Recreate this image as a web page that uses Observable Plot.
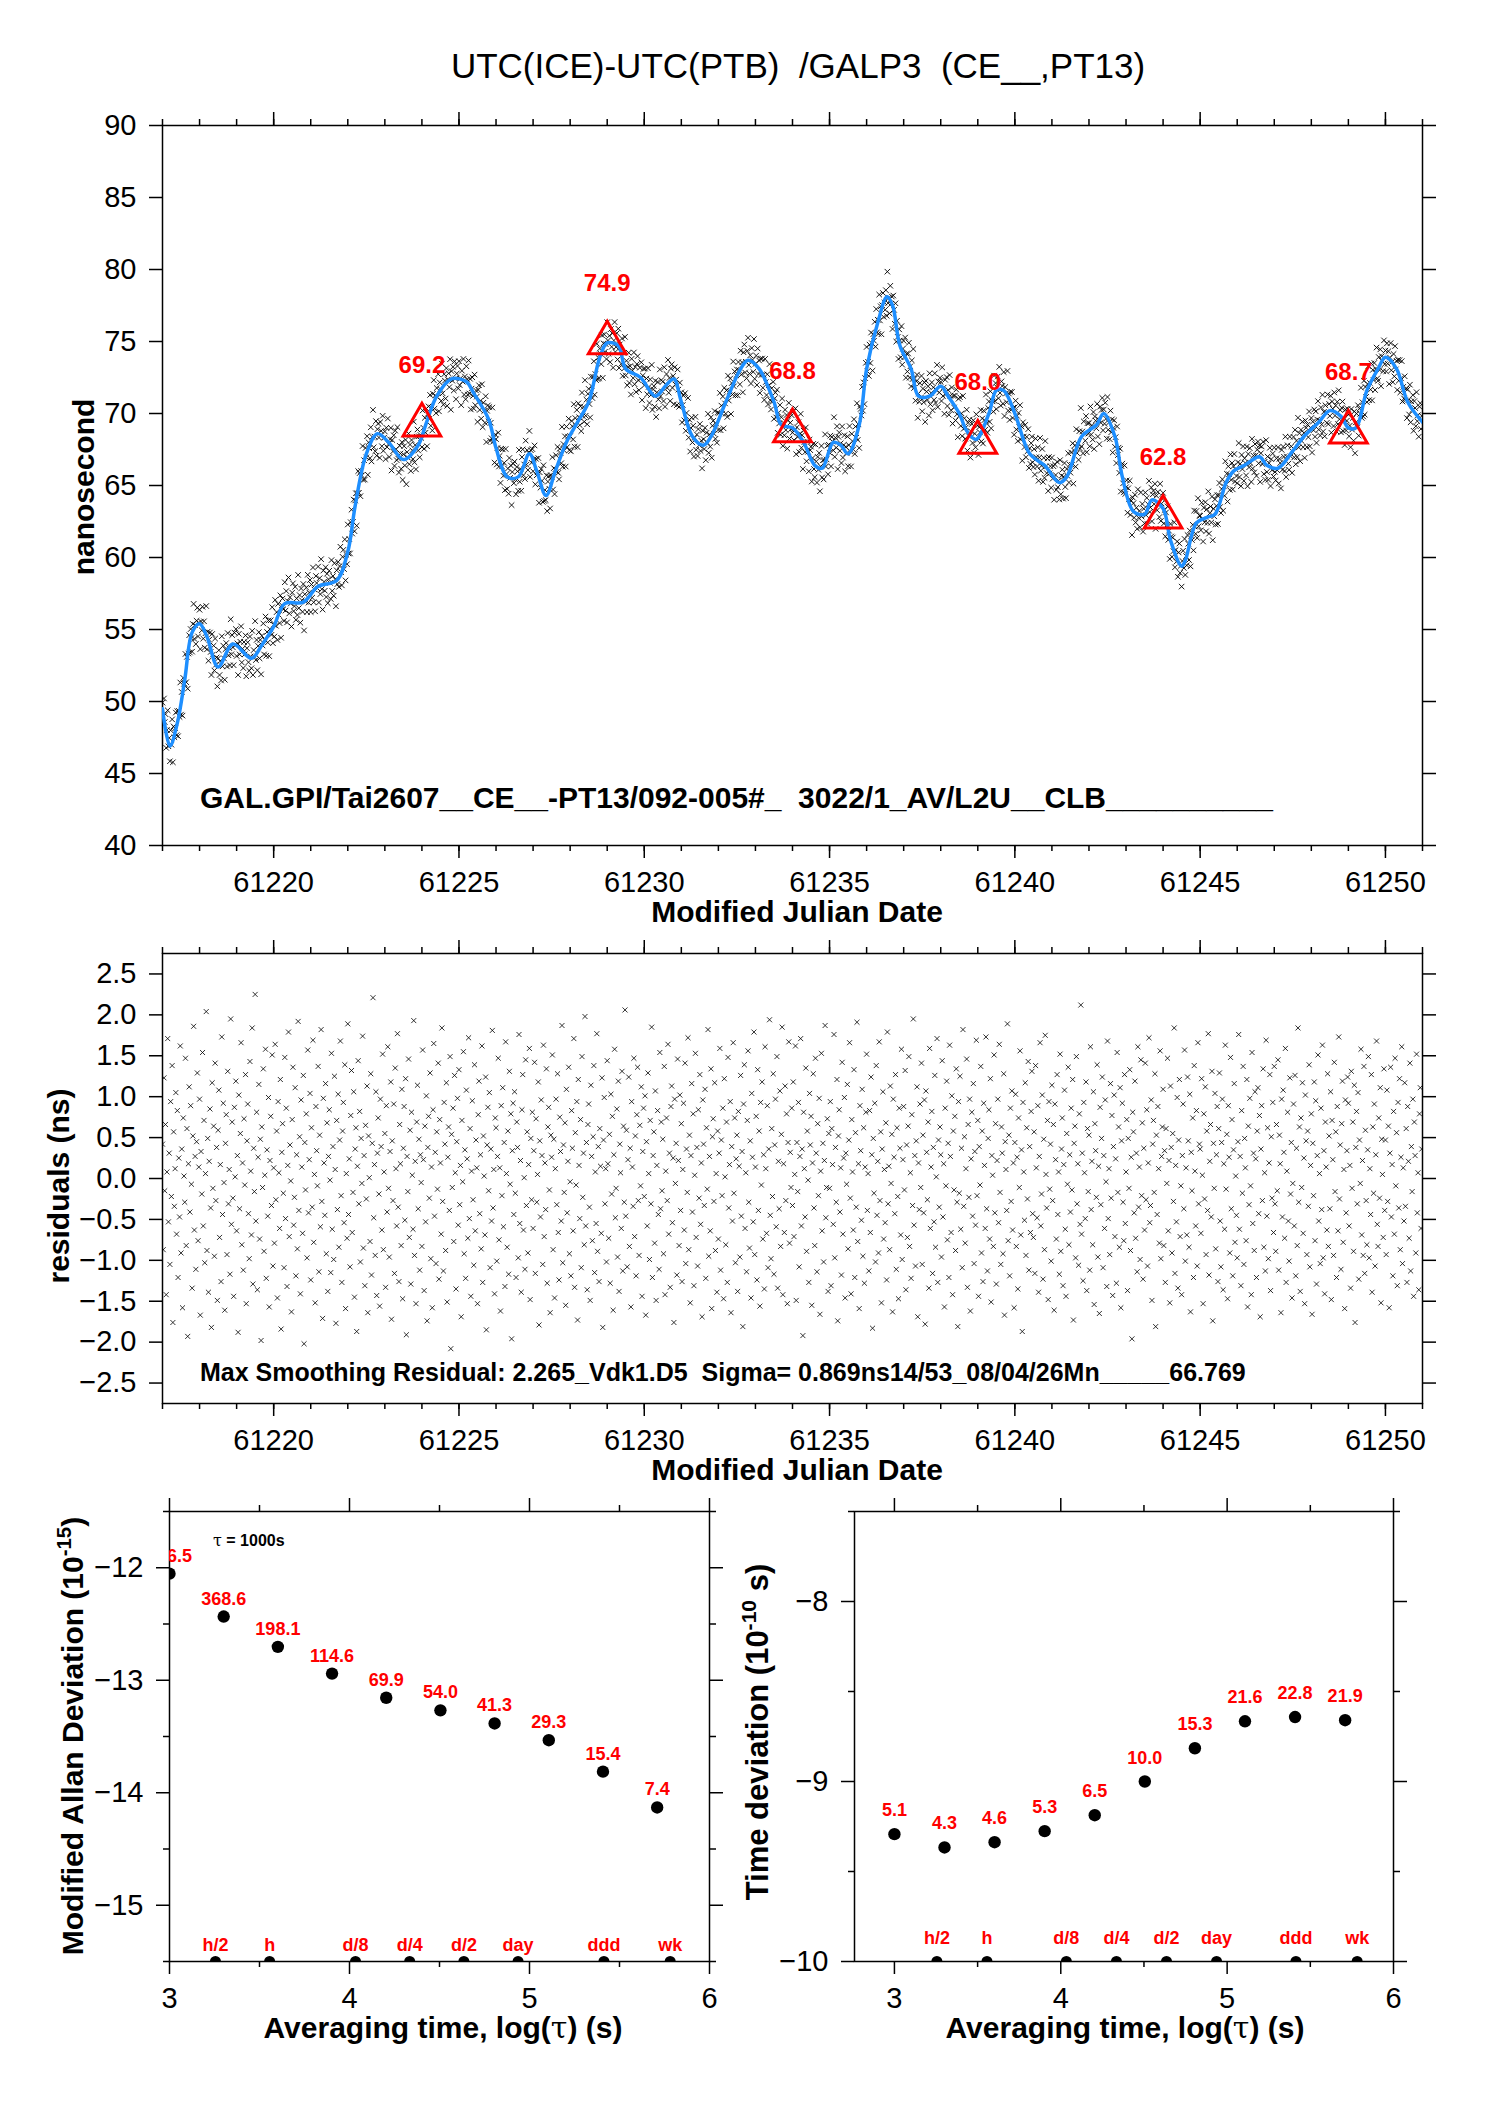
<!DOCTYPE html>
<html><head><meta charset="utf-8">
<script src="https://cdn.jsdelivr.net/npm/d3@7"></script>
<script src="https://cdn.jsdelivr.net/npm/@observablehq/plot@0.6"></script>
<style>
body{margin:0;background:#fff;}
#page{position:relative;width:1488px;height:2105px;background:#fff;overflow:hidden;}
.panel{position:absolute;}
.panel svg{display:block;max-width:none;overflow:visible;}
svg text{white-space:pre;}
</style></head><body><div id="page"></div>
<script>
// ---------- data ----------
const mjdTicksMajor = [61220, 61225, 61230, 61235, 61240, 61245, 61250];
const mjdTicksMinor = d3.range(61217, 61252, 1);
const nsTicks = [40, 45, 50, 55, 60, 65, 70, 75, 80, 85, 90];
const resTicks = [-2.5, -2.0, -1.5, -1.0, -0.5, 0.0, 0.5, 1.0, 1.5, 2.0, 2.5];

// blue smoothed curve (MJD, ns)
const smoothMJD = [61217.0,61217.2,61217.4,61217.6,61217.8,61218.0,61218.2,61218.5,61218.9,61219.4,61219.7,61220.0,61220.3,61220.8,61221.2,61221.7,61222.0,61222.2,61222.5,61222.8,61223.1,61223.5,61223.9,61224.1,61224.4,61224.8,61225.2,61225.4,61225.8,61226.0,61226.3,61226.6,61226.9,61227.1,61227.35,61227.6,61227.9,61228.2,61228.5,61228.8,61229.0,61229.3,61229.5,61229.9,61230.3,61230.6,61230.8,61231.0,61231.3,61231.6,61231.8,61232.2,61232.6,61232.8,61233.1,61233.5,61233.7,61234.0,61234.3,61234.6,61234.8,61235.1,61235.3,61235.5,61235.8,61236.0,61236.3,61236.55,61236.7,61236.9,61237.2,61237.4,61237.7,61238.0,61238.2,61238.5,61238.7,61238.95,61239.3,61239.5,61239.7,61240.0,61240.4,61240.8,61241.2,61241.4,61241.8,61242.2,61242.4,61242.7,61242.9,61243.2,61243.5,61243.7,61244.0,61244.2,61244.5,61244.6,61244.9,61245.2,61245.4,61245.7,61245.9,61246.2,61246.6,61246.8,61247.1,61247.5,61247.8,61248.2,61248.5,61248.8,61249.0,61249.2,61249.5,61249.8,61250.0,61250.3,61250.6,61251.0];
const smoothNs = [49.5,46.9,48.5,51.5,54.8,55.4,54.5,52.4,54.0,53.0,54.0,55.2,56.8,56.9,58.0,58.4,60.4,63.6,67.2,68.6,68.0,66.8,67.8,69.2,71.2,72.4,72.2,71.4,69.6,67.6,65.6,65.6,67.2,66.0,64.3,66.0,68.0,69.4,70.8,73.9,74.9,74.7,73.1,72.5,71.2,72.0,72.4,70.8,68.4,67.8,68.4,70.8,73.1,73.7,73.1,70.8,69.2,69.0,68.0,66.4,66.2,68.0,67.8,67.2,69.2,73.1,76.3,78.1,77.5,74.7,73.1,71.2,71.2,71.9,71.2,70.0,68.8,68.2,70.0,71.6,71.6,70.0,67.2,66.4,65.2,65.6,68.4,69.2,70.0,68.4,65.6,63.2,63.0,64.0,63.4,61.2,59.4,59.8,62.4,62.8,63.0,65.2,66.0,66.4,67.0,66.4,66.2,67.4,68.4,69.4,70.2,69.8,69.0,69.0,71.6,73.1,73.9,73.1,70.8,69.4];

// smoothing residuals (ns), regular sampling from MJD 61217, 50 samples per day
const sampleStartMJD = 61217;
const samplesPerDay = 50;
const residuals = [
0.42,-0.87,1.23,-0.15,0.66,-1.42,0.08,1.71,-0.53,0.31,-1.05,0.94,-0.22,1.38,-1.76,0.57,-0.34,0.12,1.05,-0.68,0.83,-1.21,0.25,-0.47,1.62,
-0.91,0.36,-1.58,0.74,0.03,-0.29,1.47,-0.82,0.61,-1.93,0.18,1.12,-0.41,0.89,-0.07,-1.34,0.52,1.86,-0.63,0.27,-1.11,0.45,1.29,-0.76,0.14,
0.97,-1.67,0.33,-0.19,1.54,-0.58,0.71,-1.03,0.06,2.04,-0.88,0.49,-1.39,0.21,0.85,-0.36,-1.82,1.17,-0.12,0.64,-0.95,1.41,-0.27,0.38,-1.49,
0.59,1.08,-0.72,0.17,-1.26,1.73,-0.44,0.92,-0.05,-1.61,0.43,0.78,-0.93,1.31,-0.31,0.11,-1.17,1.95,-0.56,0.69,-0.24,-1.44,0.87,0.02,1.19,
-0.64,0.28,-1.88,1.02,-0.37,0.55,1.66,-0.81,0.19,-1.12,0.73,-0.08,1.27,-1.53,0.46,0.91,-0.43,-0.98,1.43,0.09,-0.69,1.84,-1.29,0.37,-0.16,
2.25,-0.52,0.81,-1.36,0.26,1.15,-0.74,0.48,-1.98,0.63,-0.11,1.34,-0.89,0.04,1.58,-1.22,0.35,-0.46,0.99,-1.57,0.22,0.76,-0.33,1.51,-1.07,
0.13,-0.79,1.64,-0.26,0.58,-1.46,0.94,0.07,-0.61,1.21,-1.84,0.32,0.67,-0.18,-1.09,1.48,-0.49,0.86,-1.32,0.16,1.79,-0.71,0.41,-0.03,-1.63,
0.72,1.36,-0.57,-0.23,1.11,-1.19,0.29,-0.86,1.92,-0.39,0.51,-1.41,0.96,0.14,-0.67,1.26,-2.02,0.44,-0.14,0.79,-0.97,1.57,-0.42,0.23,1.04,
-1.24,0.62,-0.35,1.69,-0.78,0.05,-1.52,0.88,0.34,-0.09,1.37,-1.14,0.53,-0.59,1.82,-0.28,-1.71,0.98,0.19,-0.45,1.16,-0.92,0.68,-1.38,0.27,
0.84,-0.02,-1.15,1.53,-0.62,0.39,-0.99,1.25,0.11,-1.77,0.71,-0.38,1.03,-0.84,0.47,1.68,-0.21,-1.27,0.58,0.93,-0.54,1.39,-1.59,0.06,-0.73,
1.89,-0.44,0.24,-1.08,0.77,1.32,-0.66,-0.17,1.06,-1.45,0.36,0.62,-1.87,0.15,1.44,-0.31,0.82,-1.02,0.49,-0.06,1.74,-0.85,0.28,-1.31,0.65,
-0.25,1.13,-1.64,0.52,0.01,-0.77,1.28,-1.18,0.43,2.21,-0.48,0.17,-0.94,1.06,-1.43,0.31,0.74,-0.19,-1.56,0.97,0.39,-0.63,1.52,-0.87,0.08,
0.55,-1.33,0.89,-0.41,1.61,-0.12,-0.96,0.33,1.18,-1.72,0.46,-0.27,0.91,-1.16,1.35,0.12,-0.58,1.77,-0.35,-1.26,0.66,0.18,-0.82,1.09,-1.47,
0.37,0.88,-0.51,1.22,-1.91,0.27,-0.16,1.46,-0.72,0.59,-1.29,0.81,0.04,-0.62,1.93,-0.94,0.21,-1.53,0.69,1.14,-0.37,0.48,-1.12,0.29,-0.05,
-0.83,1.57,0.23,-1.37,0.64,-0.53,1.01,-1.74,0.38,0.76,-0.24,1.29,-0.98,0.14,-1.58,0.84,1.65,-0.46,0.32,-1.04,0.57,-0.13,1.41,-1.23,0.72,
0.19,-0.68,1.84,-0.28,-1.13,0.93,0.42,-0.88,1.17,-1.51,0.26,0.63,-0.39,1.49,-2.08,0.54,-0.11,0.86,-0.77,1.26,0.07,-1.35,0.45,0.98,-0.57,
1.33,-0.32,0.16,-1.69,0.71,-0.04,1.55,-0.92,0.35,-1.22,1.08,0.24,-0.73,1.72,-0.49,0.61,-1.44,0.09,0.95,-0.26,-1.06,1.39,-0.64,0.47,0.13,
-1.53,0.78,1.19,-0.43,0.29,-0.86,1.62,-1.27,0.52,0.03,-0.69,1.24,-1.85,0.41,0.87,-0.15,1.05,-1.09,0.36,-0.52,1.81,-0.36,0.11,-1.41,0.74,
0.62,-1.01,0.27,1.47,-0.75,0.13,-1.62,0.89,-0.21,1.11,-0.59,0.44,-1.32,1.67,0.06,-0.84,0.58,-1.17,1.31,-0.07,0.79,-1.96,0.34,0.92,-0.44,
1.06,-0.18,-1.21,0.69,0.38,-0.97,1.76,-0.55,0.22,-1.39,0.84,1.27,-0.63,0.01,-1.11,1.45,-0.33,0.57,-0.91,0.17,1.59,-1.48,0.49,-0.26,0.81,
-0.61,0.34,1.42,-1.16,0.73,-0.29,0.05,1.18,-1.79,0.46,-0.47,0.96,0.28,-1.05,1.63,-0.71,0.19,-0.38,1.34,-1.28,0.63,0.87,-0.14,-1.64,0.53,
0.26,1.51,-0.87,0.48,-1.46,0.12,0.97,-0.32,1.28,-0.66,-1.24,0.75,0.33,-0.52,1.87,-1.03,0.41,-0.17,0.68,-1.55,1.09,-0.42,0.21,1.36,-0.92,
-0.04,-1.19,0.83,0.37,-0.64,1.71,-1.33,0.56,-0.08,0.94,-1.73,1.21,0.16,-0.49,0.72,-1.09,1.49,-0.23,0.31,-0.81,1.98,-0.58,0.44,-1.36,0.66,
0.91,-0.35,-1.49,1.14,0.27,-0.76,0.51,1.38,-1.15,0.08,-0.55,1.77,-0.89,0.39,-1.26,0.61,0.15,-0.67,1.23,-1.82,0.47,0.99,-0.31,0.12,-1.02,
1.44,0.18,-0.73,0.54,-1.28,1.03,-0.19,0.76,-1.61,0.29,1.58,-0.48,-0.12,0.85,-0.96,1.19,-1.38,0.42,0.07,-0.61,1.31,-1.13,0.64,-0.29,2.06,
-0.46,0.59,-1.08,0.23,1.24,-0.83,0.37,-1.57,0.94,0.14,-0.34,1.47,-0.71,0.52,-1.19,0.78,1.36,-0.27,-0.94,0.65,-0.09,1.12,-1.44,0.33,0.86,
-0.22,1.01,-1.67,0.45,-0.58,1.29,0.06,-0.99,0.71,-0.31,1.85,-1.21,0.28,0.57,-0.79,1.07,-1.49,0.16,0.83,-0.44,-1.11,1.54,-0.37,0.69,-0.15,
0.48,-0.92,1.37,-1.42,0.09,0.74,-0.27,1.64,-0.68,0.31,-1.33,0.88,1.13,-0.54,0.25,-1.76,0.97,-0.06,0.43,-1.18,1.46,0.22,-0.82,1.02,-0.39,
0.67,-1.26,0.11,0.92,-0.63,1.41,-1.04,0.36,-0.17,1.72,-0.87,0.53,-1.52,0.28,1.16,-0.41,0.79,-1.31,0.04,1.53,-0.72,0.38,-1.07,0.84,-0.24,
1.27,-0.56,0.19,-1.69,0.96,0.42,-0.33,1.09,-1.22,0.62,-0.13,1.82,-0.95,0.27,-0.64,1.34,-1.59,0.51,0.73,-0.28,1.17,-0.88,0.06,-1.39,0.58,
-0.74,0.31,1.59,-1.12,0.47,-0.21,0.86,-1.47,1.22,0.02,-0.81,0.69,-1.27,1.48,-0.36,0.17,0.94,-1.64,0.39,-0.52,1.66,-0.18,0.74,-1.03,0.24,
0.53,-1.38,0.82,0.15,-0.96,1.26,-0.46,0.33,-1.81,0.91,1.39,-0.61,0.07,-1.14,0.71,1.56,-0.29,-0.85,0.46,-1.46,1.04,0.26,-0.53,1.79,-0.93,
0.14,0.76,-1.24,1.33,-0.39,0.58,-1.56,0.93,-0.08,1.18,-0.74,0.29,-1.35,1.61,0.12,-0.67,0.89,-1.09,0.36,1.94,-0.45,-0.98,0.61,-0.22,1.28,
-1.17,0.41,0.97,-0.59,1.49,-1.34,0.21,-0.37,1.07,-0.83,0.54,1.85,-1.42,0.18,-0.66,1.13,-0.27,0.79,-1.53,0.44,1.67,-0.79,0.32,-0.11,0.86,
-0.33,1.18,-0.71,0.05,1.62,-1.49,0.44,-0.16,0.93,-1.08,0.27,1.71,-0.58,0.36,-1.92,0.81,0.12,-0.47,1.35,-0.89,0.58,-0.02,-1.27,1.04,0.41,
0.76,-1.55,0.19,1.28,-0.36,-0.82,1.47,0.31,-1.14,0.67,-0.21,0.98,-1.66,0.09,1.53,-0.64,0.43,-1.02,0.22,1.87,-0.48,-0.11,0.73,-1.38,0.55,
-0.12,0.94,-1.31,0.61,0.17,-0.56,1.76,-0.97,0.38,-0.29,1.21,-1.74,0.52,0.84,-0.41,0.13,-1.18,1.42,-0.68,0.25,0.99,-1.46,0.31,-0.07,1.15,
-0.86,0.47,1.66,-0.24,-1.41,0.72,0.08,-0.63,1.33,-1.21,0.56,-0.35,1.91,-0.77,0.18,-1.59,0.89,0.34,-0.51,1.09,-0.95,0.62,-1.28,0.14,0.81,
1.52,-0.39,0.06,-1.13,0.83,-0.66,1.24,0.29,-1.83,0.49,-0.18,0.92,-1.02,1.38,-0.45,0.21,-0.91,1.67,-0.27,0.57,-1.52,0.36,1.06,-0.74,0.11,
-0.54,0.68,-1.24,1.79,-0.31,0.15,-0.87,1.13,-0.06,0.54,-1.63,0.97,0.26,-0.43,1.27,-1.11,0.62,-0.22,-1.47,0.86,0.37,-0.69,1.58,-0.99,0.23,
0.88,-0.14,1.32,-1.36,0.41,-0.72,0.64,1.49,-0.83,0.07,-1.22,0.78,-0.33,1.95,-0.57,0.28,-1.07,0.46,1.12,-1.69,0.19,-0.38,0.91,-0.11,1.41,
-1.05,0.53,-0.42,0.96,-1.78,1.07,0.32,-0.26,0.69,-1.34,1.59,-0.61,0.14,0.82,-1.16,0.38,-0.53,1.26,-0.84,0.02,1.71,-1.27,0.47,-0.35,0.63,
0.29,-0.96,1.44,-0.47,0.18,-1.57,0.86,-0.09,1.19,-0.75,0.43,-1.21,1.63,0.27,-0.66,1.01,-1.42,0.58,-0.14,0.76,-0.88,1.34,-0.29,-1.81,0.94,
-0.18,1.25,-0.62,0.37,-1.09,1.82,-0.34,0.51,-0.79,0.12,1.46,-1.33,0.66,-0.23,0.97,-1.62,0.24,0.81,-0.46,1.16,-1.04,0.33,-0.57,1.69,-0.21,
0.71,-1.44,0.39,-0.08,1.37,-0.91,0.58,-1.26,0.92,0.16,-0.61,1.73,-0.37,-1.13,0.49,0.84,-0.74,1.22,-1.51,0.28,0.04,-0.83,1.51,-0.42,0.67,
-1.29,0.22,0.97,-0.54,1.64,-0.17,-1.05,0.63,0.31,-0.92,1.28,-1.67,0.45,0.11,-0.39,1.89,-0.76,0.53,-1.19,0.86,-0.28,1.07,-0.63,0.19,-1.58,
0.44,1.03,-0.83,0.26,-1.35,0.74,-0.11,1.56,-0.69,0.35,-1.87,0.93,0.08,-0.51,1.17,-0.94,0.62,-0.25,1.43,-1.12,0.39,-0.66,0.82,1.31,-0.43,
-0.72,0.57,-1.16,1.38,0.13,-0.48,0.89,-1.39,0.27,1.66,-0.58,-0.19,1.02,-1.23,0.48,-0.87,1.75,0.05,-0.36,0.71,-1.48,0.94,-0.13,0.42,-1.01,
1.14,-0.27,0.66,-1.61,0.91,0.23,-0.74,1.27,-0.44,0.08,-1.17,1.52,-0.89,0.36,0.74,-1.31,0.17,1.08,-0.62,-1.44,0.55,-0.07,1.36,-0.81,0.29,
-0.41,0.86,-0.14,1.21,-1.73,0.43,0.64,-0.97,1.49,-0.31,0.18,-1.06,0.79,-0.56,2.12,-0.68,0.31,-1.25,0.93,0.07,-0.49,1.18,-1.37,0.61,-0.16,
0.53,-1.12,1.61,-0.38,0.21,-0.81,1.06,-1.54,0.67,0.34,-0.23,1.39,-0.96,0.15,-1.65,0.87,-0.32,0.49,1.24,-1.09,0.28,-0.61,0.96,-0.04,-1.32,
1.68,-0.49,0.12,-0.93,1.16,-0.24,0.77,-1.43,0.39,1.02,-0.71,0.24,-1.28,1.54,-0.17,0.63,-0.84,1.11,-1.58,0.46,0.92,-0.29,-0.76,1.27,-0.55,
0.08,0.72,-1.37,0.49,-0.12,1.33,-0.88,0.26,-1.96,0.81,0.57,-0.42,1.19,-0.73,0.31,-1.14,1.61,-0.35,0.14,-0.99,1.45,-0.21,0.68,-1.23,0.37,
-0.63,1.41,-0.26,0.84,-1.07,0.19,1.72,-0.54,-0.33,0.96,-1.49,0.42,0.71,-0.17,1.28,-1.81,0.53,-0.44,0.88,0.12,-0.79,1.56,-0.98,0.27,0.63,
1.09,-0.82,0.34,-1.27,0.61,-0.06,1.47,-0.64,0.22,-1.52,1.13,0.38,-0.91,0.55,-0.28,1.84,-1.16,0.16,-0.53,0.99,-1.34,0.47,1.21,-0.71,-0.09,
-1.42,0.28,0.91,-0.37,1.57,-1.01,0.13,-0.69,1.24,0.46,-0.84,1.03,-1.63,0.32,-0.15,0.74,-1.21,1.38,0.09,-0.58,0.83,-1.07,1.66,-0.31,0.42,
0.36,-0.67,1.22,0.04,-1.53,0.79,-0.25,1.12,-0.93,0.58,-0.39,1.77,-1.18,0.21,0.66,-0.47,1.31,-1.74,0.43,-0.12,1.04,-0.86,0.29,0.88,-1.26,
0.61,1.29,-0.52,-1.08,0.44,0.97,-1.36,0.18,-0.62,1.63,-0.13,0.54,-1.47,0.89,0.26,-0.91,1.48,-0.37,0.72,-1.19,0.35,1.16,-0.78,0.03,-0.45,
-0.97,0.45,1.76,-0.62,0.27,-1.31,0.83,-0.18,1.37,-1.05,0.49,0.13,-0.76,1.21,-1.57,0.64,-0.32,0.98,-0.09,-1.42,1.54,-0.55,0.31,-0.88,1.06,
0.24,-1.21,0.58,1.11,-0.43,0.77,-1.69,0.36,0.89,-0.27,1.34,-0.84,0.07,-1.13,1.69,-0.46,0.62,-0.98,0.19,1.27,-1.37,0.51,-0.24,0.93,-0.66,
1.37,-0.31,-0.89,0.66,-0.15,1.45,-1.12,0.53,0.18,-1.64,0.97,-0.47,1.08,0.32,-0.73,1.59,-1.27,0.09,0.81,-0.52,-1.01,1.23,-0.19,0.44,-1.46,
-0.06,0.91,-0.58,1.26,-1.19,0.37,-0.82,1.84,-0.29,0.63,-1.38,0.74,-0.11,1.17,-0.67,0.25,-1.53,1.02,0.46,-0.93,0.58,-0.34,1.39,-1.08,0.16,
0.79,-1.66,0.43,-0.21,1.18,-0.76,0.95,-1.29,0.28,1.51,-0.52,0.06,-1.04,0.86,-0.38,1.63,-0.97,0.34,-1.41,0.69,0.14,-0.63,1.28,-0.83,0.52,
-0.37,1.06,-1.48,0.71,0.23,-0.94,1.42,-0.16,0.57,-1.21,0.88,-0.64,1.73,-0.25,0.41,-1.11,0.67,1.19,-0.78,0.11,-1.59,0.96,-0.42,0.34,1.24,
0.92,-0.58,0.16,-1.34,1.31,-0.12,0.69,-0.89,1.14,-1.76,0.38,0.82,-0.31,1.05,-1.23,0.47,-0.06,1.58,-0.69,0.22,-0.94,1.37,-1.16,0.59,-0.27,
-0.81,0.35,1.49,-0.97,0.12,-0.44,1.27,-1.39,0.63,-0.18,0.91,-1.07,0.29,1.68,-0.56,-0.83,0.74,-0.24,1.11,-1.52,0.48,0.05,-0.72,1.34,-0.39,
0.47,-0.93,1.08,-0.28,0.64,-1.58,0.31,1.36,-0.47,0.17,-1.19,0.82,-0.68,1.47,-0.09,0.56,-1.31,0.93,-0.36,1.22,-0.87,0.26,1.61,-1.04,0.13,
-0.52,1.17,-0.34,0.61,-1.27,0.88,0.21,-0.73,1.41,-1.13,0.39,-0.16,0.97,-1.44,0.69,0.28,-0.91,1.52,-0.42,0.07,-1.36,0.79,1.11,-0.61,0.36
];

// red triangles (5-day values)
const triMJD = [61224, 61229, 61234, 61239, 61244, 61249];
const triNs = [69.2, 74.9, 68.8, 68.0, 62.8, 68.7];

// stability plots
const tauSeconds = [1000, 2000, 4000, 8000, 16000, 32000, 64000, 128000, 256000, 512000];
const mdev1e15 = [886.5, 368.6, 198.1, 114.6, 69.9, 54.0, 41.3, 29.3, 15.4, 7.4];   // MDEV, 10^-15
const tdev1e10 = [5.1, 4.3, 4.6, 5.3, 6.5, 10.0, 15.3, 21.6, 22.8, 21.9];          // TDEV, 10^-10 s
const markerNames = ["h/2", "h", "d/8", "d/4", "d/2", "day", "ddd", "wk"];
const markerSeconds = [1800, 3600, 10800, 21600, 43200, 86400, 259200, 604800];
const logTauMajor = [3, 4, 5, 6];
const logTauMinor = [3.5, 4.5, 5.5];
const mdevMajor = [-15, -14, -13, -12];
const mdevMinor = [-15.5, -14.5, -13.5, -12.5, -11.5];
const tdevMajor = [-10, -9, -8];
const tdevMinor = [-9.5, -8.5, -7.5];

// ---------- build ----------
const FONT = '"Liberation Sans", Arial, Helvetica, sans-serif';
const page = document.getElementById("page");
const smoothAt = d3.scaleLinear().domain(smoothMJD).range(smoothNs);
const smooth = smoothMJD.map((t, i) => ({t, ns: smoothNs[i]}));
const meas = residuals.map((r, i) => {
  const t = sampleStartMJD + i / samplesPerDay;
  return {t, res: r, ns: smoothAt(t) + r};
});
const tri = triMJD.map((t, i) => ({t, ns: triNs[i], label: d3.format(".1f")(triNs[i])}));
const mdev = tauSeconds.map((s, i) => ({x: Math.log10(s), y: Math.log10(mdev1e15[i] * 1e-15), label: d3.format(".1f")(mdev1e15[i])}));
const tdev = tauSeconds.map((s, i) => ({x: Math.log10(s), y: Math.log10(tdev1e10[i] * 1e-10), label: d3.format(".1f")(tdev1e10[i])}));
const markers = markerNames.map((n, i) => ({x: Math.log10(markerSeconds[i]), name: n}));

const blank = () => "";
const SW = 1.5;

function boxAxes(xMajor, xMinor, yMajor, yMinor, xFmt, yFmt) {
  const m = [
    Plot.frame({stroke: "#000", strokeWidth: SW}),
    Plot.axisX({anchor: "bottom", ticks: xMajor, tickSize: 13, tickPadding: 13, tickFormat: xFmt, label: null, strokeWidth: SW}),
    Plot.axisX({anchor: "top", ticks: xMajor, tickSize: 14, tickFormat: blank, label: null, strokeWidth: SW}),
    Plot.axisY({anchor: "left", ticks: yMajor, tickSize: 13, tickPadding: 13, tickFormat: yFmt, label: null, strokeWidth: SW}),
    Plot.axisY({anchor: "right", ticks: yMajor, tickSize: 13, tickFormat: blank, label: null, strokeWidth: SW})
  ];
  if (xMinor) m.push(
    Plot.axisX({anchor: "bottom", ticks: xMinor, tickSize: 6, tickFormat: blank, label: null, strokeWidth: SW}),
    Plot.axisX({anchor: "top", ticks: xMinor, tickSize: 7, tickFormat: blank, label: null, strokeWidth: SW}));
  if (yMinor) m.push(
    Plot.axisY({anchor: "left", ticks: yMinor, tickSize: 6, tickFormat: blank, label: null, strokeWidth: SW}),
    Plot.axisY({anchor: "right", ticks: yMinor, tickSize: 6, tickFormat: blank, label: null, strokeWidth: SW}));
  return m;
}

function place(svg, left, top, w) {
  const div = document.createElement("div");
  div.className = "panel";
  div.style.left = left + "px"; div.style.top = top + "px"; div.style.width = w + "px";
  div.appendChild(svg);
  page.appendChild(div);
  return d3.select(svg);
}

function label(sel, {x, y, text, size = 30, weight = "bold", anchor = "middle", rotate = 0, fill = "#000"}) {
  const t = sel.append("text")
    .attr("transform", `translate(${x},${y})` + (rotate ? ` rotate(${rotate})` : ""))
    .attr("text-anchor", anchor)
    .attr("font-family", FONT)
    .attr("font-size", size)
    .attr("font-weight", weight)
    .attr("fill", fill);
  if (Array.isArray(text)) {
    for (const part of text) {
      const ts = t.append("tspan").text(part.t);
      if (part.sup) ts.attr("font-size", size * 0.68).attr("dy", -size * 0.4);
      if (part.after) ts.attr("dy", size * 0.4);
      if (part.serif) ts.attr("font-family", '"DejaVu Serif", serif').attr("font-weight", "normal");
    }
  } else t.text(text);
  return t;
}

const baseStyle = {fontFamily: FONT, fontSize: "29px", color: "#000", background: "transparent", overflow: "visible"};

// ---- Panel A: time series ----
const A = Plot.plot({
  width: 1488, height: 940, marginLeft: 162, marginRight: 66, marginTop: 125, marginBottom: 95,
  style: baseStyle,
  x: {domain: [61217, 61251]},
  y: {domain: [40, 90]},
  marks: [
    ...boxAxes(mjdTicksMajor, mjdTicksMinor, nsTicks, null, d3.format("d"), d3.format("d")),
    Plot.dot(meas, {x: "t", y: "ns", symbol: "times", r: 2.6, stroke: "#000", strokeWidth: 0.9, clip: true}),
    Plot.line(smooth, {x: "t", y: "ns", stroke: "#1E8FFF", strokeWidth: 3.5, curve: "catmull-rom", clip: true}),
    Plot.dot(tri, {x: "t", y: "ns", symbol: "triangle", r: 14, stroke: "#FF0000", strokeWidth: 3, fill: "none"}),
    Plot.text(tri, {x: "t", y: "ns", text: "label", dy: -52, lineAnchor: "bottom", fill: "#FF0000", fontWeight: "bold", fontSize: 24})
  ]
});
const sA = place(A, 0, 0, 1488);
label(sA, {x: 798, y: 78, text: "UTC(ICE)-UTC(PTB)  /GALP3  (CE__,PT13)", size: 35, weight: "normal"});
label(sA, {x: 94, y: 487, text: "nanosecond", rotate: -90});
label(sA, {x: 797, y: 922, text: "Modified Julian Date"});
label(sA, {x: 200, y: 808, text: "GAL.GPI/Tai2607__CE__-PT13/092-005#_  3022/1_AV/L2U__CLB__________", anchor: "start"});

// ---- Panel B: residuals ----
const B = Plot.plot({
  width: 1488, height: 568, marginLeft: 162, marginRight: 66, marginTop: 23, marginBottom: 95,
  style: baseStyle,
  x: {domain: [61217, 61251]},
  y: {domain: [-2.75, 2.75]},
  marks: [
    ...boxAxes(mjdTicksMajor, mjdTicksMinor, resTicks, null, d3.format("d"), d3.format(".1f")),
    Plot.dot(meas, {x: "t", y: "res", symbol: "times", r: 2.4, stroke: "#000", strokeWidth: 0.8, clip: true})
  ]
});
const sB = place(B, 0, 930, 1488);
label(sB, {x: 69, y: 256, text: "residuals (ns)", rotate: -90});
label(sB, {x: 797, y: 550, text: "Modified Julian Date"});
label(sB, {x: 200, y: 451, text: "Max Smoothing Residual: 2.265_Vdk1.D5  Sigma= 0.869ns14/53_08/04/26Mn_____66.769", anchor: "start", size: 25});

// ---- Panel C: Modified Allan deviation ----
const C = Plot.plot({
  width: 740, height: 615, marginLeft: 169, marginRight: 31, marginTop: 21, marginBottom: 144,
  style: baseStyle,
  x: {domain: [3, 6]},
  y: {domain: [-15.5, -11.5]},
  marks: [
    ...boxAxes(logTauMajor, logTauMinor, mdevMajor, mdevMinor, d3.format("d"), d3.format("d")),
    Plot.dot(mdev, {x: "x", y: "y", r: 6.2, fill: "#000", clip: true}),
    Plot.text(mdev, {x: "x", y: "y", text: "label", dy: -12, lineAnchor: "bottom", fill: "#FF0000", fontWeight: "bold", fontSize: 18, clip: true}),
    Plot.dot(markers, {x: "x", y: () => -15.5, r: 5.5, fill: "#000", clip: true}),
    Plot.text(markers, {x: "x", y: () => -15.5, text: "name", dy: -11, lineAnchor: "bottom", fill: "#FF0000", fontWeight: "bold", fontSize: 18})
  ]
});
const sC = place(C, 0, 1490, 740);
label(sC, {x: 83, y: 246, rotate: -90, text: [{t: "Modified Allan Deviation (10"}, {t: "-15", sup: true}, {t: ")", after: true}]});
label(sC, {x: 443, y: 548, text: [{t: "Averaging time, log("}, {t: "τ", serif: true}, {t: ") (s)"}]});
label(sC, {x: 213, y: 56, text: [{t: "τ", serif: true}, {t: " = 1000s"}], size: 16, anchor: "start"});

// ---- Panel D: Time deviation ----
const D = Plot.plot({
  width: 748, height: 615, marginLeft: 114, marginRight: 95, marginTop: 21, marginBottom: 144,
  style: baseStyle,
  x: {domain: [2.76, 6]},
  y: {domain: [-10, -7.5]},
  marks: [
    ...boxAxes(logTauMajor, logTauMinor, tdevMajor, tdevMinor, d3.format("d"), d3.format("d")),
    Plot.dot(tdev, {x: "x", y: "y", r: 6.2, fill: "#000", clip: true}),
    Plot.text(tdev, {x: "x", y: "y", text: "label", dy: -18, lineAnchor: "bottom", fill: "#FF0000", fontWeight: "bold", fontSize: 18, clip: true}),
    Plot.dot(markers, {x: "x", y: () => -10, r: 5.5, fill: "#000", clip: true}),
    Plot.text(markers, {x: "x", y: () => -10, text: "name", dy: -18, lineAnchor: "bottom", fill: "#FF0000", fontWeight: "bold", fontSize: 18})
  ]
});
const sD = place(D, 740, 1490, 748);
label(sD, {x: 28, y: 242, rotate: -90, size: 31, text: [{t: "Time deviation (10"}, {t: "-10", sup: true}, {t: " s)", after: true}]});
label(sD, {x: 385, y: 548, text: [{t: "Averaging time, log("}, {t: "τ", serif: true}, {t: ") (s)"}]});
</script></body></html>
